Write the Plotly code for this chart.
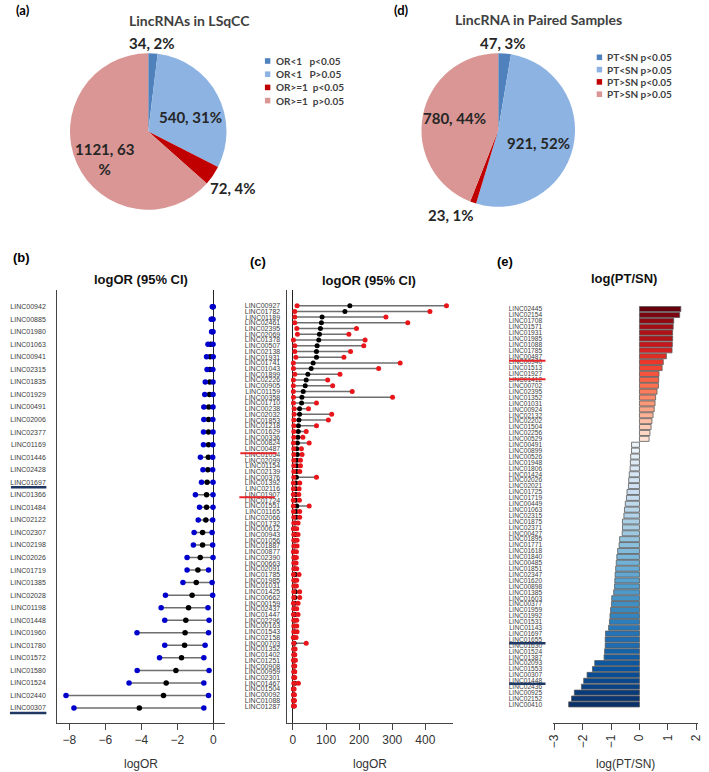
import plotly.graph_objects as go
from plotly.colors import sample_colorscale, sequential

W, H = 709, 772
def fx(x): return x / W
def fy(y): return 1 - y / H

# ---------------- Panel (a) ----------------
lsqcc_labels = ["OR<1\u00a0\u00a0\u00a0p<0.05", "OR<1\u00a0\u00a0\u00a0P>0.05", "OR>=1\u00a0\u00a0p<0.05", "OR>=1\u00a0\u00a0p>0.05"]
lsqcc_counts = [34, 540, 72, 1121]
# ---------------- Panel (d) ----------------
paired_labels = ["PT<SN p<0.05", "PT<SN p>0.05", "PT>SN p<0.05", "PT>SN p>0.05"]
paired_counts = [47, 921, 23, 780]
pie_colors = ["#4F81BD", "#8DB3E2", "#C00000", "#D99694"]

# ---------------- Panel (b) ----------------
b_genes = ["LINC00942","LINC00885","LINC01980","LINC01063","LINC00941","LINC02315","LINC01835","LINC01929",
           "LINC00491","LINC02006","LINC02377","LINC01169","LINC01446","LINC02428","LINC01697","LINC01366",
           "LINC01484","LINC02122","LINC02307","LINC02198","LINC02026","LINC01719","LINC01385","LINC02028",
           "LINC01198","LINC01448","LINC01960","LINC01780","LINC01572","LINC01580","LINC01524","LINC02440","LINC00307"]
b_lower = [-0.06,-0.12,-0.10,-0.30,-0.38,-0.35,-0.45,-0.48,-0.53,-0.53,-0.55,-0.55,-0.72,-0.58,-0.66,-1.00,
           -0.77,-0.84,-1.07,-1.11,-1.46,-1.46,-1.69,-2.66,-2.90,-2.70,-4.24,-2.70,-2.99,-4.23,-4.68,-8.18,-7.74]
b_est = [-0.03,-0.07,-0.06,-0.15,-0.18,-0.20,-0.20,-0.22,-0.26,-0.27,-0.27,-0.27,-0.28,-0.31,-0.35,-0.38,
         -0.38,-0.42,-0.60,-0.60,-0.73,-0.86,-0.95,-1.18,-1.38,-1.53,-1.57,-1.60,-1.77,-2.08,-2.62,-2.77,-4.11]
b_upper = [-0.01,-0.02,-0.02,-0.02,-0.01,-0.03,-0.02,-0.02,-0.02,-0.03,-0.02,-0.03,-0.04,-0.04,-0.02,-0.02,
           -0.02,-0.04,-0.07,-0.04,-0.02,-0.27,-0.07,-0.04,-0.30,-0.24,-0.27,-0.46,-0.53,-0.24,-0.53,-0.27,-0.53]

# ---------------- Panel (c) ----------------
c_genes = ["LINC00927","LINC01782","LINC01189","LINC02461","LINC02395","LINC02069","LINC01378","LINC00507",
           "LINC02138","LINC01931","LINC01741","LINC01043","LINC01899","LINC02226","LINC00905","LINC01159",
           "LINC00358","LINC01710","LINC00238","LINC02032","LINC01853","LINC01218","LINC01629","LINC00336",
           "LINC00824","LINC00487","LINC01054","LINC02099","LINC01154","LINC02139","LINC00376","LINC01392",
           "LINC02116","LINC01907","LINC01724","LINC01551","LINC01165","LINC02066","LINC01732","LINC00612",
           "LINC00943","LINC01056","LINC01887","LINC00877","LINC02390","LINC00663","LINC02091","LINC01785",
           "LINC01985","LINC01031","LINC01425","LINC00662","LINC00159","LINC02437","LINC01447","LINC02296",
           "LINC00163","LINC01543","LINC02158","LINC00703","LINC01352","LINC01402","LINC01251","LINC00908",
           "LINC00959","LINC02301","LINC01467","LINC01504","LINC00092","LINC01088","LINC01287"]
c_lower = [12.4,5.5,5.5,5.5,11.5,13.5,1.5,5.5,5.5,8.5,1.2,1.5,5.5,
           1.2,1.2,1.2,1.5,1.5,3.5,3.5,2.5,2.5,2.5,2.5,1.5,2.5,2.5,2.5,2.5,2.5,2.5,1.2,1.2,1.2,1.2,1.2,
           1.5,2.5,2.5,1.2,2.5,2.5,2.5,1.2,2.5,2.5,2.5,1.5,2.5,2.5,2.5,2.5,1.5,2.5,1.5,2.5,2.5,2.5,1.2,
           2.5,2.5,2.5,1.5,2.5,2.5,2.5,2.5,1.2,1.5,1.5,1.5]
c_est = [172,157,88,86,83,80,78,73,71,71,61,55,45,
         40,37,31,27,26,20,20,18,16.5,16,15,13.5,11.5,13.4,11.5,11.5,11.5,10.4,8.5,8.5,8.5,8.5,11.5,
         9.5,9.5,6.5,5.5,7.4,5.5,5.5,3.5,5.5,4.5,5.5,7.4,5.5,5.5,7.4,5.5,5.5,4.5,5.5,4.5,4.5,5.5,3.5,
         3.5,3.5,3.5,3.5,3.5,3.5,3.5,5.5,1.8,2.5,2.5,2.5]
c_upper = [464,414,281,347,192,169,218,214,174,154,324,259,142,
           105,120,179,301,71,47,117,107,71,40,30,49,25.5,27.5,22.6,22.6,20.6,71,20.6,18.5,17.6,19.5,49,
           20.3,20.3,15.4,11.4,15.4,12.4,12.4,10.4,10.4,9.4,11.4,18.4,11.4,10.4,20.3,20.3,15.4,11.4,15.4,
           11.4,11.4,12.4,9.4,40,6.4,5.5,7.4,5.5,5.5,5.5,16.4,3.5,4.5,4.5,4.5]

# ---------------- Panel (e) ----------------
e_genes = ["LINC02445","LINC02154","LINC01708","LINC01571","LINC01931","LINC01985","LINC01088","LINC01785",
           "LINC00487","LINC00940","LINC01513","LINC01927","LINC01412","LINC00702","LINC02395","LINC01352",
           "LINC01031","LINC00924","LINC02132","LINC02202","LINC01504","LINC02256","LINC00529","LINC00491",
           "LINC00899","LINC00526","LINC01948","LINC01806","LINC01424","LINC02026","LINC02021","LINC01725",
           "LINC01719","LINC00449","LINC01063","LINC02315","LINC01875","LINC02371","LINC00427","LINC01895",
           "LINC01771","LINC01618","LINC01840","LINC00485","LINC01851","LINC02347","LINC01620","LINC00898",
           "LINC01385","LINC01603","LINC00377","LINC01959","LINC01992","LINC01531","LINC01143","LINC01697",
           "LINC01655","LINC01630","LINC01524","LINC01387","LINC02093","LINC01553","LINC00307","LINC01448",
           "LINC02436","LINC00925","LINC02152","LINC00410"]
e_logratio = [1.46,1.42,1.21,1.19,1.17,1.17,1.16,1.15,0.95,0.84,0.80,0.69,0.68,0.67,0.62,0.57,0.55,0.52,
              0.48,0.44,0.41,0.37,0.34,
              -0.28,-0.28,-0.31,-0.32,-0.33,-0.36,-0.38,-0.39,-0.44,-0.46,-0.50,-0.53,-0.55,-0.60,-0.60,
              -0.61,-0.70,-0.72,-0.77,-0.80,-0.82,-0.84,-0.86,-0.87,-0.88,-0.91,-0.98,-0.99,-1.02,-1.04,
              -1.06,-1.09,-1.20,-1.21,-1.21,-1.23,-1.25,-1.58,-1.66,-1.85,-1.97,-2.05,-2.30,-2.40,-2.50]

# ================= figure =================
fig = go.Figure()
PIE_FONT = "Lato, Open Sans, sans-serif"
ARIAL = "Liberation Sans, Arial, sans-serif"

fig.add_trace(go.Pie(values=lsqcc_counts, labels=lsqcc_labels, sort=False, direction="clockwise", rotation=0,
                     marker=dict(colors=pie_colors, line=dict(width=0)), textinfo="none", showlegend=False,
                     domain=dict(x=[fx(65), fx(224)], y=[fy(211), fy(52)])))
fig.add_trace(go.Pie(values=paired_counts, labels=paired_labels, sort=False, direction="clockwise", rotation=0,
                     marker=dict(colors=pie_colors, line=dict(width=0)), textinfo="none", showlegend=False,
                     domain=dict(x=[fx(422), fx(578)], y=[fy(208), fy(52)])))

# ---- panel (b) ----
yb = list(range(len(b_genes)))
xs, ys = [], []
for i, (lo, hi) in enumerate(zip(b_lower, b_upper)):
    xs += [lo, hi, None]; ys += [i, i, None]
fig.add_trace(go.Scatter(x=xs, y=ys, mode="lines", line=dict(color="#6E6E6E", width=1.5),
                         xaxis="x", yaxis="y", showlegend=False, hoverinfo="skip"))
fig.add_trace(go.Scatter(x=b_est, y=yb, mode="markers", marker=dict(color="black", size=5.5),
                         xaxis="x", yaxis="y", showlegend=False))
fig.add_trace(go.Scatter(x=b_lower + b_upper, y=yb + yb, mode="markers", marker=dict(color="#0000CD", size=5.5),
                         xaxis="x", yaxis="y", showlegend=False))

# ---- panel (c) ----
yc = list(range(len(c_genes)))
xs, ys = [], []
for i, (lo, hi) in enumerate(zip(c_lower, c_upper)):
    xs += [lo, hi, None]; ys += [i, i, None]
fig.add_trace(go.Scatter(x=xs, y=ys, mode="lines", line=dict(color="#6E6E6E", width=1.5),
                         xaxis="x2", yaxis="y2", showlegend=False, hoverinfo="skip"))
fig.add_trace(go.Scatter(x=c_est, y=yc, mode="markers", marker=dict(color="black", size=5),
                         xaxis="x2", yaxis="y2", showlegend=False))
fig.add_trace(go.Scatter(x=c_lower + c_upper, y=yc + yc, mode="markers", marker=dict(color="#E8161B", size=5),
                         xaxis="x2", yaxis="y2", showlegend=False))

# ---- panel (e) ----
pos = [v for v in e_logratio if v > 0]
neg = [v for v in e_logratio if v <= 0]
cols = []
for v in e_logratio:
    if v > 0:
        r = sorted(pos, reverse=True).index(v)
        t = 1.0 - 0.88 * r / max(len(pos) - 1, 1)
        cols.append(sample_colorscale(sequential.Reds, [t])[0])
    else:
        r = sorted(neg, reverse=True).index(v)
        t = 0.06 + 0.94 * r / max(len(neg) - 1, 1)
        cols.append(sample_colorscale(sequential.Blues, [t])[0])
ye = list(range(len(e_genes)))
fig.add_trace(go.Bar(x=e_logratio, y=ye, orientation="h", width=0.86,
                     marker=dict(color=cols, line=dict(color="#5A5A5A", width=0.8)),
                     xaxis="x3", yaxis="y3", showlegend=False))

axis_common = dict(showgrid=False, showline=True, linecolor="#444444", linewidth=1, ticks="outside",
                   tickcolor="#444444", ticklen=6, tickfont=dict(family=ARIAL, size=12, color="#333333"))
ylab = dict(showgrid=False, zeroline=False, ticks="outside", tickcolor="rgba(0,0,0,0)")

fig.update_layout(
    width=W, height=H, autosize=False, margin=dict(l=0, r=0, t=0, b=0),
    paper_bgcolor="white", plot_bgcolor="white", showlegend=False,
    xaxis=dict(domain=[fx(52), fx(222)], anchor="y", range=[-8.67, 0.62], tickvals=[-8, -6, -4, -2, 0],
               zeroline=True, zerolinecolor="#222222", zerolinewidth=1.2, **axis_common),
    yaxis=dict(domain=[fy(722.7), fy(290)], anchor="x", range=[33.17, -1.33], tickvals=yb, ticktext=b_genes,
               showline=True, linecolor="#444444", ticklen=9,
               tickfont=dict(family=ARIAL, size=7, color="#3C3C3C"), **ylab),
    xaxis2=dict(domain=[fx(285), fx(454)], anchor="y2", range=[-19.3, 483.6], tickvals=[0, 100, 200, 300, 400],
                zeroline=True, zerolinecolor="#222222", zerolinewidth=1.2, **axis_common),
    yaxis2=dict(domain=[fy(722.7), fy(290)], anchor="x2", range=[72.9, -2.74], tickvals=yc, ticktext=c_genes,
                showline=True, linecolor="#444444", ticklen=4,
                tickfont=dict(family=ARIAL, size=7, color="#3C3C3C"), **ylab),
    xaxis3=dict(domain=[fx(556), fx(703)], anchor="y3", range=[-3.04, 2.07], tickvals=[-3, -2, -1, 0, 1, 2],
                tickangle=-90, zeroline=False, **axis_common),
    yaxis3=dict(domain=[fy(722.7), fy(300)], anchor="x3", range=[70.1, -1.53], tickvals=ye, ticktext=e_genes,
                showline=False, ticklen=9, tickfont=dict(family=ARIAL, size=6.6, color="#3C3C3C"), **ylab),
    bargap=0.1,
)

ann = []
def text(x, y, s, size, bold=True, color="#000", family=PIE_FONT, xanchor="center"):
    ann.append(dict(x=fx(x), y=fy(y), xref="paper", yref="paper", text=f"<b>{s}</b>" if bold else s,
                    showarrow=False, xanchor=xanchor, yanchor="middle",
                    font=dict(family=family, size=size, color=color)))

# panel letters and titles
text(17, 10, "(a)", 13, family=PIE_FONT)
text(402, 10, "(d)", 13, family=PIE_FONT)
text(186, 21, "LincRNAs in LSqCC", 14, color="#404040")
text(541, 20, "LincRNA in Paired Samples", 14, color="#404040")
text(16, 257, "(b)", 13, family=ARIAL)
text(256, 261, "(c)", 13, family=ARIAL)
text(507, 261, "(e)", 13, family=ARIAL)
text(137, 280, "logOR (95% CI)", 13, family=ARIAL, color="#111")
text(369, 281, "logOR (95% CI)", 13, family=ARIAL, color="#111")
text(628, 279, "log(PT/SN)", 13, family=ARIAL, color="#111")
# axis titles
text(137, 764, "logOR", 12, bold=False, family=ARIAL, color="#333")
text(369.5, 764, "logOR", 12, bold=False, family=ARIAL, color="#333")
text(629.5, 764, "log(PT/SN)", 12, bold=False, family=ARIAL, color="#333")

# pie labels
a_pos = [(148, 43), (187, 117), (231, 188), (100, 159)]
a_wrap = [False, False, False, True]
tot = sum(lsqcc_counts)
for v, (x, y), w in zip(lsqcc_counts, a_pos, a_wrap):
    pct = round(100 * v / tot)
    text(x, y, f"{v}, {pct}<br>%" if w else f"{v}, {pct}%", 15, color="#262626")
d_pos = [(505, 43), (541, 143), (452, 215), (456, 118)]
tot = sum(paired_counts)
for v, (x, y) in zip(paired_counts, d_pos):
    pct = round(100 * v / tot)
    text(x, y, f"{v}, {pct}%", 15, color="#262626")

# manual legends
shapes = []
for k, (lab, col) in enumerate(zip(lsqcc_labels, pie_colors)):
    yy = 61 + 13.2 * k
    shapes.append(dict(type="rect", xref="paper", yref="paper", x0=fx(263), x1=fx(268.5), y0=fy(yy + 2.8), y1=fy(yy - 2.8),
                       fillcolor=col, line=dict(width=0)))
    text(272, yy, lab, 10, color="#404040", xanchor="left")
for k, (lab, col) in enumerate(zip(paired_labels, pie_colors)):
    yy = 57.3 + 12.3 * k
    shapes.append(dict(type="rect", xref="paper", yref="paper", x0=fx(600), x1=fx(605.5), y0=fy(yy + 2.8), y1=fy(yy - 2.8),
                       fillcolor=col, line=dict(width=0)))
    text(608, yy, lab, 10, color="#404040", xanchor="left")

# highlight lines
def hline(x0, x1, y, color, w=2):
    shapes.append(dict(type="line", xref="paper", yref="paper", x0=fx(x0), x1=fx(x1), y0=fy(y), y1=fy(y),
                       line=dict(color=color, width=w)))
NAVY = "#1F3864"; RED = "#E8262A"
hline(5, 41, 487.3, NAVY, 2.5)
hline(4, 41, 713, NAVY, 2.5)
hline(238, 275, 453.3, RED)
hline(237, 273, 497.3, RED)
hline(511, 548, 360.7, RED)
hline(511, 548, 379.3, RED)
hline(511, 548, 643.3, NAVY, 2.5)
hline(511, 548, 683.7, NAVY, 2.5)

fig.update_layout(annotations=ann, shapes=shapes)
fig.write_html("out.html", config={"displayModeBar": False},
               post_script="document.body.style.margin='0';document.body.style.overflow='hidden';")
